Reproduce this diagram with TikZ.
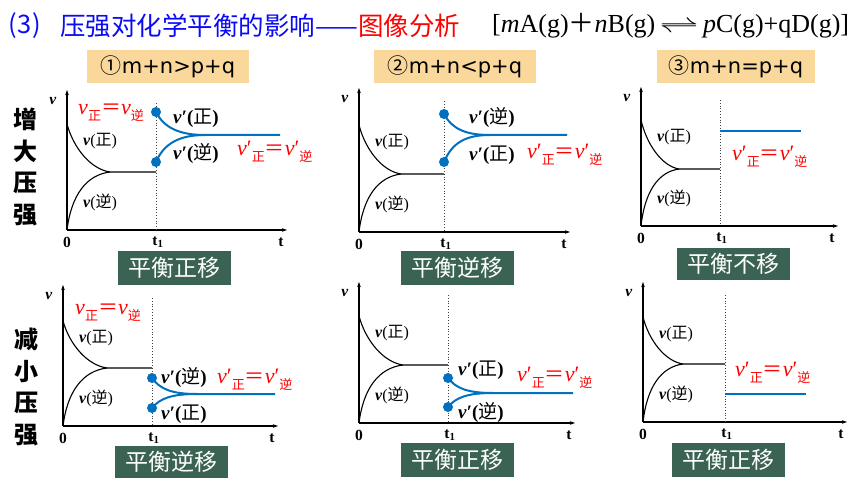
\documentclass[tikz,border=0pt]{standalone}
\usepackage{graphicx}
\usepackage{fontspec}
\setmainfont{Liberation Serif}
\newfontfamily\cjk{Noto Sans CJK SC}
\newfontfamily\dvs{DejaVu Sans}
\usetikzlibrary{arrows.meta}
\definecolor{tblue}{RGB}{10,10,245}
\definecolor{tred}{RGB}{255,0,0}
\definecolor{cblue}{RGB}{0,112,192}
\definecolor{peach}{RGB}{250,216,156}
\definecolor{boxgreen}{RGB}{59,99,84}
\newcommand{\fs}[1]{\fontsize{#1}{#1}\selectfont}
\newcommand{\vsb}[1]{\raisebox{-0.28em}{\fs{13}\cjk #1}}
\newcommand{\veqlab}{\textit{v}\vsb{正}{\cjk\fs{20}＝}\textit{v}\vsb{逆}}
\newcommand{\vpeqlab}{\textit{v}′\vsb{正}{\cjk\fs{20}＝}\textit{v}′\vsb{逆}}
\newcommand{\vpl}[1]{\textbf{\textit{v}′(}{\cjk #1}\textbf{)}}
\newcommand{\vl}[1]{\textbf{\textit{v}}({\cjk #1})}
\newcommand{\condtext}[2]{{\cjk #1}{\dvs #2}}
\tikzset{
  axis/.style={line width=1.1pt,-{Stealth[length=5pt,width=3.5pt]}},
  curve/.style={line width=1.1pt},
  tdot/.style={dotted,line width=0.8pt,black!75},
  bcurve/.style={cblue,line width=2pt},
  axlab/.style={font=\fs{15.5}\bfseries,inner sep=0pt},
  smalllab/.style={font=\fs{16},inner sep=0pt},
  biglab/.style={font=\fs{19},inner sep=0pt},
  redlab/.style={font=\fs{22},text=tred,inner sep=0pt},
  result/.style={fill=boxgreen,text=white,font=\cjk\fs{23},minimum width=113pt,minimum height=34pt,inner sep=0pt},
  cond/.style={fill=peach,font=\fs{21},minimum height=33pt,inner sep=0pt},
  side/.style={font=\cjk\bfseries\fontsize{24}{31.5}\selectfont,align=center,inner sep=0pt},
  ttl/.style={anchor=west,inner sep=0pt,font=\cjk\fs{25.5}}
}
% #1 x0, #2 x-axis y, #3 y-axis top, #4 x-axis end, #5 t1, #6 start of v(zheng), #7 x eq, #8 y eq, #9 name prefix
\newcommand{\vtbase}[9]{%
  \draw[axis] (#1,#2) -- (#4,#2);
  \draw[axis] (#1,#2) -- (#1,#3);
  \draw[tdot] (#5,{#3+13}) -- (#5,#2);
  \draw[curve] (#1,#6) .. controls ({#1+0.15*(#7-#1)},{#6+0.5*(#8-#6)}) and ({#1+0.55*(#7-#1)},{#8-0.06*(#8-#6)}) .. (#7,#8) -- (#5,#8);
  \draw[curve] (#1,#2) .. controls ({#1+0.1*(#7-#1)},{#2-0.6*(#2-#8)}) and ({#1+0.45*(#7-#1)},{#8+0.05*(#2-#8)}) .. (#7,#8);
  \node[axlab] (#9v) at ({#1-14},{#3+11}) {\textit{v}};
  \node[axlab] (#9o) at (#1,{#2+12}) {0};
  \node[axlab] (#9tone) at ({#5+2},{#2+12}) {t\textsubscript{1}};
  \node[axlab] (#9t) at ({#4-6},{#2+12}) {t};
  \node[smalllab] (#9f) at ({#1+33},{#6+17}) {\vl{正}};
  \node[smalllab] (#9r) at ({#1+33},{#2-28}) {\vl{逆}};
}
% #1 t1, #2 upper dot y, #3 lower dot y, #4 x meet, #5 y meet, #6 x end
\newcommand{\vtshift}[6]{%
  \draw[bcurve] (#1,#2) .. controls ({#1+8},{#2+0.7*(#5-#2)}) and ({#4-25},#5) .. (#4,#5) -- (#6,#5);
  \draw[bcurve] (#1,#3) .. controls ({#1+8},{#3+0.7*(#5-#3)}) and ({#4-25},#5) .. (#4,#5);
  \fill[cblue] (#1,#2) circle[radius=5pt];
  \fill[cblue] (#1,#3) circle[radius=5pt];
}
\begin{document}
\begin{tikzpicture}[x=1pt,y=-1pt]
\useasboundingbox (0,0) rectangle (860,484);
\fill[white] (0,0) rectangle (860,484);
% title
\node[ttl,text=tblue] (tnum) at (8,26) {(\kern1pt3\kern1pt)};
\node[ttl,text=tblue] (tmain) at (60,26) {压强对化学平衡的影响——};
\node[ttl,text=tred] (tsub) at (tmain.east) {图像分析};
\node[anchor=west,inner sep=0pt,font=\fs{26}] (tform) at (492,26) {[\textit{m}A(g){\cjk ＋}\textit{n}B(g)\,\scalebox{1.6}[1]{$\rightleftharpoons$}\,\textit{p}C(g)+qD(g)]};
% conditions
\node[cond,minimum width=162pt] (c1) at (168,66.5) {\condtext{①}{m+n>p+q}};
\node[cond,minimum width=162pt] (c2) at (455,66.5) {\condtext{②}{m+n<p+q}};
\node[cond,minimum width=158pt] (c3) at (736,66.5) {\condtext{③}{m+n=p+q}};
% side labels
\node[side] (inc) at (25,167) {增\\大\\压\\强};
\node[side] (dec) at (27,387) {减\\小\\压\\强};
% graph 1
\vtbase{67}{230}{90}{287}{156}{124}{110}{172}{ga}
\vtshift{156}{112}{162}{205}{135}{280}
\node[redlab] (gaeq) at (111,113) {\veqlab};
\node[biglab] (gaf) at (196,118) {\vpl{正}};
\node[biglab] (gar) at (196,153) {\vpl{逆}};
\node[redlab,anchor=west] (gaeqp) at (237,152) {\vpeqlab};
\node[result] (ra) at (174,267.5) {平衡正移};
% graph 2
\vtbase{359}{232}{88}{570}{444}{125}{401}{174}{gb}
\vtshift{444}{114}{162}{490}{135}{567}
\node[biglab] (gbr) at (492,117) {\vpl{逆}};
\node[biglab] (gbf) at (492,155) {\vpl{正}};
\node[redlab,anchor=west] (gbeqp) at (527,155) {\vpeqlab};
\node[result] (rb) at (457.5,268) {平衡逆移};
% graph 3
\vtbase{641}{226}{87}{838}{720}{120}{679}{169}{gc}
\draw[bcurve] (720,131) -- (801,131);
\node[redlab,anchor=west] (gceqp) at (732,157) {\vpeqlab};
\node[result,minimum height=32pt] (rc) at (733.5,264) {平衡不移};
% graph 4
\vtbase{63}{426}{285}{278}{152}{321}{107}{368}{gd}
\vtshift{152}{378}{408}{197}{394}{275}
\node[redlab] (gdeq) at (108,313) {\veqlab};
\node[biglab] (gdr) at (184,377) {\vpl{逆}};
\node[biglab] (gdf) at (184,414) {\vpl{正}};
\node[redlab,anchor=west] (gdeqp) at (217,380) {\vpeqlab};
\node[result,minimum height=32pt] (rd) at (171.5,461.5) {平衡逆移};
% graph 5
\vtbase{359}{423}{282}{575}{448}{316}{403}{365}{ge}
\vtshift{448}{378}{407}{493}{393}{573}
\node[biglab] (gef) at (481,370) {\vpl{正}};
\node[biglab] (ger) at (481,412) {\vpl{逆}};
\node[redlab,anchor=west] (geeqp) at (517,378) {\vpeqlab};
\node[result] (re) at (457.5,460) {平衡正移};
% graph 6
\vtbase{643}{422}{282}{847}{725}{317}{683}{364}{gf}
\draw[bcurve] (725,394) -- (806,394);
\node[redlab,anchor=west] (gfeqp) at (735,373) {\vpeqlab};
\node[result] (rf) at (728.5,460) {平衡正移};
\end{tikzpicture}
\end{document}
